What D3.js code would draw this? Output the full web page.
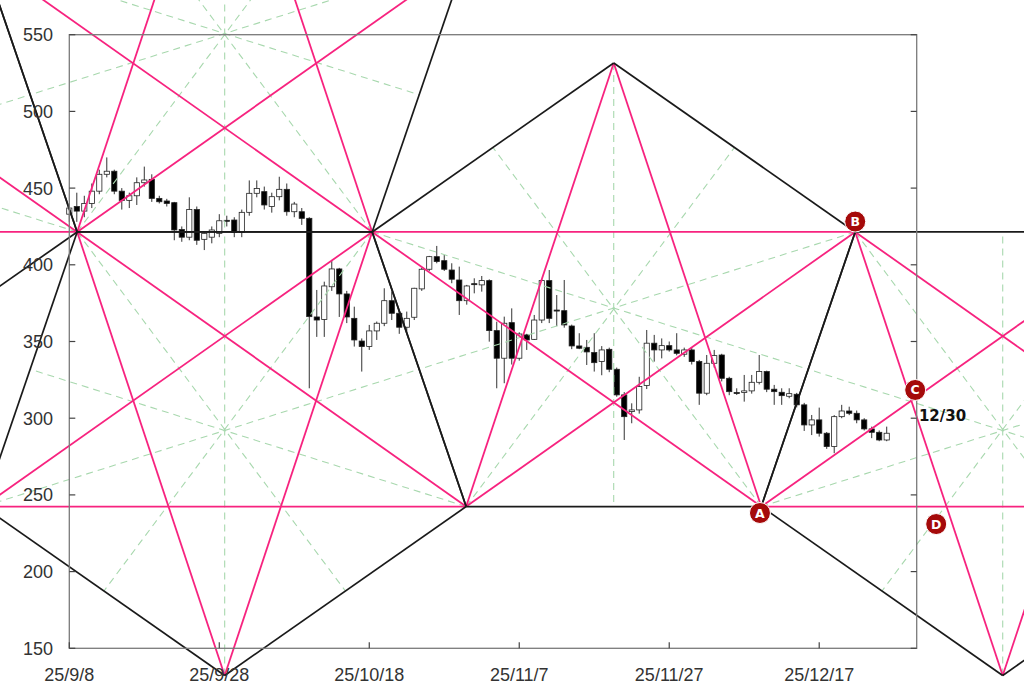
<!DOCTYPE html>
<html><head><meta charset="utf-8">
<script src="https://cdn.jsdelivr.net/npm/d3@7"></script>
<style>
html,body{margin:0;padding:0;background:#fff;}
svg{display:block;}
</style></head>
<body>
<svg id="chart" width="1024" height="697"></svg>
<script>
// ---------- data ----------
const startDate = "2025-09-08";
const endDate = "2025-12-30";
const firstCandle = "2025-09-08";
const open  = [433,438,435,440,448,459,461,448,442,445,453.5,455.7,443.3,441.6,440.5,423,418,436,416.6,418,420.5,429,429.2,421.1,434.2,446.6,447.7,438,444.4,449.2,434.6,434.6,430.3,366,364.4,385.7,397.3,381,365.1,350.3,346.7,356.9,361.9,376.6,368.4,359.3,365.8,384.3,397.1,405.3,402.7,396.6,390.1,376.6,387.7,386.9,389.7,357.1,339.1,362.3,339.1,354.3,351.4,364,389.7,370.5,370.1,360.1,347.1,346.2,342.8,336.9,344.9,331.9,315.2,304.3,305.4,321.3,348.9,344.5,347.3,344.5,341.7,344.5,336.9,316.3,335.8,341.2,326,316.7,316.7,317.8,323.4,330.4,318.9,316.9,314.3,315.6,308.7,295.6,298.9,290.2,281.5,301,304.7,303.2,298.9,293,290.8,285.8];
const high  = [440,447,445,453,462,470,462,450,447,457,464,459,445,443,441,425,444,438,421,425,433,432,431,436,455,455,451,447,457.4,453,441,437,431,383.6,389,403,398,383,372.7,352,360.8,363,384.7,382.5,370,369.5,385,398,405.8,412.3,406.4,401,398.8,386.9,391.2,392.7,390.5,362.9,366.2,371.6,356,355,367.3,390.6,396.6,380.3,390.1,361,355.4,351,355.4,347,346,333,317,309.7,327,357.5,354.3,352,350,355.4,346,346,338,341.2,344.5,342,327,319.5,328.2,328.2,341.2,331,321.7,319.5,319.5,316.5,310,302.1,306.9,291,302,308.7,307.5,305,300,294.5,292,294.5];
const low   = [428,428,431,437,446,457,446,436,437,439,451,441,440,438,416,415,416,413,409.6,414,418,425,418,418,432,444,436,434,442,432,431,426,319.5,353,353,383,366,362,346.7,330.4,344.5,351,360,364,355,356.5,364,383,396,401,396,388,367.3,374,381.4,382.5,349.9,319.5,322.8,335,337.5,344.5,351,362,362,360,359,345,345,334.7,330.4,328,330,314,285.8,296.7,303,319,336.9,339,343.4,341,340,335,308.7,315,333,324,315,315.2,310.8,316,322,317,308.7,308.7,313,307,291.7,289,288,280,277.2,300,302,296.7,292,287,285,285];
const close = [437,435,440,448,459,461,448,442,445,453.5,455.3,443.3,441.1,440,422.7,418,436,416,420.5,422.7,428.7,428.5,421.1,434.2,446.6,449.8,439,444.4,449.2,434.6,439.6,430.3,366.2,364,386.2,397.3,381,366,351,346.7,356.9,361.9,376.6,368.4,359.3,365.1,384.7,397.1,405.3,402.1,397.1,390.6,376.6,386.2,387.3,389.7,357.1,339.1,361.9,339.1,354.9,351,364,389.7,365.1,370.1,360.8,347.1,345.6,343.2,336.2,344.5,331.9,315.2,301,305.4,320.6,348.9,344.5,347.3,344.5,342.3,344.5,336.9,316.3,335.8,340.8,326,317.3,316.5,317.8,323.4,330.4,318.9,317.3,314.7,316,308.7,295.6,298.9,290.2,281.5,301,304.7,303.2,298.9,293,290.8,285.8,290.2];

const yTicks = [150,200,250,300,350,400,450,500,550];
const xTickDates = ["2025-09-08","2025-09-28","2025-10-18","2025-11-07","2025-11-27","2025-12-17"];
const xTickLabels = ["25/9/8","25/9/28","25/10/18","25/11/7","25/11/27","25/12/17"];

// pentagon chart vertices: day offset from startDate, price
const vertexNames = ["ILl","ILtl","ILb","SL","U4top","SR","P1","P2","V1","L","T","P4","A","B","V2","TR3","R3"];
const vertexDay   = [-63.35,-50.82,-31.15,-11.48,20.72,52.92,1.05,40.39,20.72,-11.48,72.6,52.92,92.27,104.8,124.47,144.14,156.67];
const vertexPrice = [421.4,600.3,311.2,600.3,710.5,600.3,421.4,421.4,132.3,242.4,531.55,242.4,242.4,421.4,132.3,421.4,242.4];
// pentagons, vertices in cyclic order
const pentagons = [
  ["ILtl","SL","P1","ILb","ILl"],
  ["U4top","SR","P2","P1","SL"],
  ["P1","P2","P4","V1","L"],
  ["T","B","A","P4","P2"],
  ["B","TR3","R3","V2","A"]
];
// point labels
const markNames = ["A","B","C","D"];
const markDay   = [92.1,104.8,112.8,115.6];
const markPrice = [238.2,428.2,318.4,231.0];
const noteText = "12/30";
const noteDay = 113.3;
const notePrice = 302;

// ---------- scales ----------
const parse = d3.timeParse("%Y-%m-%d");
const t0 = parse(startDate);
const dayToDate = d => new Date(t0.getTime() + d * 864e5);
const x = d3.scaleTime().domain([t0, parse(endDate)]).range([69.3, 916.7]);
const y = d3.scaleLinear().domain([150, 550]).range([648.3, 34.7]);

const svg = d3.select("#chart");
const W = 1024, H = 697;
svg.append("rect").attr("width", W).attr("height", H).attr("fill", "#fff");

// candles
const c0 = parse(firstCandle);
const candles = open.map((o, i) => ({
  date: d3.timeDay.offset(c0, i), o, h: high[i], l: low[i], c: close[i]
}));
const cg = svg.append("g");
cg.selectAll("line.wick").data(candles).join("line")
  .attr("x1", d => x(d.date)).attr("x2", d => x(d.date))
  .attr("y1", d => y(d.h)).attr("y2", d => y(d.l))
  .attr("stroke", "#333").attr("stroke-width", 1);
cg.selectAll("rect.body").data(candles).join("rect")
  .attr("x", d => x(d.date) - 2.6).attr("width", 5.2)
  .attr("y", d => y(Math.max(d.o, d.c)))
  .attr("height", d => Math.max(1, Math.abs(y(d.o) - y(d.c))))
  .attr("fill", d => d.c >= d.o ? "#fff" : "#000")
  .attr("stroke", "#222").attr("stroke-width", 0.8);

// geometry
const vp = {};
vertexNames.forEach((n, i) => { vp[n] = [x(dayToDate(vertexDay[i])), y(vertexPrice[i])]; });
const edges = [], diags = [], axes = [];
pentagons.forEach(p => {
  for (let i = 0; i < 5; i++) {
    edges.push([vp[p[i]], vp[p[(i + 1) % 5]]]);
    diags.push([vp[p[i]], vp[p[(i + 2) % 5]]]);
    const a = vp[p[(i + 2) % 5]], b = vp[p[(i + 3) % 5]];
    axes.push([vp[p[i]], [(a[0] + b[0]) / 2, (a[1] + b[1]) / 2]]);
  }
});
const lg = svg.append("g");
lg.selectAll("line.ax").data(axes).join("line")
  .attr("x1", d => d[0][0]).attr("y1", d => d[0][1]).attr("x2", d => d[1][0]).attr("y2", d => d[1][1])
  .attr("stroke", "#a8d8ae").attr("stroke-width", 1.1).attr("stroke-dasharray", "7,5");
lg.selectAll("line.dg").data(diags).join("line")
  .attr("x1", d => d[0][0]).attr("y1", d => d[0][1]).attr("x2", d => d[1][0]).attr("y2", d => d[1][1])
  .attr("stroke", "#f7237f").attr("stroke-width", 1.8);
lg.selectAll("line.ed").data(edges).join("line")
  .attr("x1", d => d[0][0]).attr("y1", d => d[0][1]).attr("x2", d => d[1][0]).attr("y2", d => d[1][1])
  .attr("stroke", "#1a1a1a").attr("stroke-width", 1.7);

// frame
const x0 = x.range()[0], x1 = x.range()[1], yT = y.range()[1], yB = y.range()[0];
svg.append("rect").attr("x", x0).attr("y", yT).attr("width", x1 - x0).attr("height", yB - yT)
  .attr("fill", "none").attr("stroke", "#7a7a7a").attr("stroke-width", 1.3);

// y ticks (both sides, inward)
const ag = svg.append("g").attr("font-family", "'Liberation Sans', Arial, sans-serif").attr("fill", "#333");
yTicks.forEach(v => {
  ag.append("line").attr("x1", x0).attr("x2", x0 + 6).attr("y1", y(v)).attr("y2", y(v)).attr("stroke", "#444").attr("stroke-width", 1.2);
  ag.append("line").attr("x1", x1).attr("x2", x1 - 6).attr("y1", y(v)).attr("y2", y(v)).attr("stroke", "#444").attr("stroke-width", 1.2);
  ag.append("text").attr("x", 53).attr("y", y(v)).attr("dy", "0.36em").attr("text-anchor", "end")
    .attr("font-size", 18).text(d3.format("d")(v));
});
xTickDates.forEach((s, i) => {
  const px = x(parse(s));
  ag.append("line").attr("x1", px).attr("x2", px).attr("y1", yB).attr("y2", yB - 6).attr("stroke", "#444").attr("stroke-width", 1.2);
  ag.append("text").attr("x", px).attr("y", 675).attr("dy", "0.36em").attr("text-anchor", "middle")
    .attr("font-size", 18).text(xTickLabels[i]);
});

// note text
svg.append("text").attr("x", x(dayToDate(noteDay))).attr("y", y(notePrice)).attr("dy", "0.36em")
  .attr("font-family", "'DejaVu Sans', sans-serif").attr("font-weight", "bold").attr("font-size", 15)
  .attr("fill", "#111").text(noteText);

// point marks
const mg = svg.append("g");
markNames.forEach((n, i) => {
  const px = x(dayToDate(markDay[i])), py = y(markPrice[i]);
  mg.append("circle").attr("cx", px).attr("cy", py).attr("r", 10.5).attr("fill", "#a50a0a").attr("stroke", "#fff").attr("stroke-width", 1);
  mg.append("text").attr("x", px).attr("y", py).attr("dy", "0.36em").attr("text-anchor", "middle")
    .attr("font-family", "'DejaVu Sans', sans-serif").attr("font-weight", "bold").attr("font-size", 12.5)
    .attr("fill", "#fff").text(n);
});
</script>
</body></html>
